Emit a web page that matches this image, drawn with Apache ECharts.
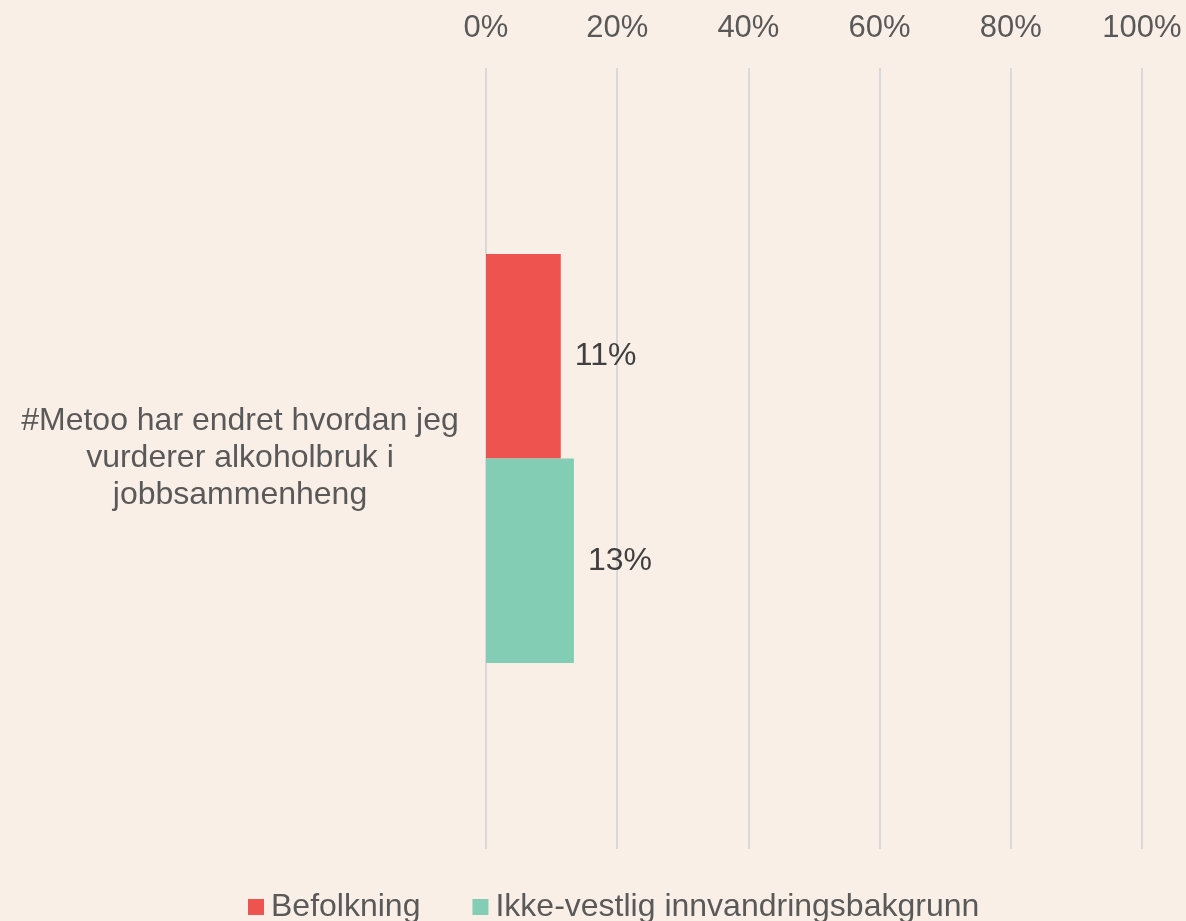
<!DOCTYPE html>
<html>
<head>
<meta charset="utf-8">
<script src="https://cdn.jsdelivr.net/npm/echarts@6/dist/echarts.min.js"></script>
<style>
html,body{margin:0;padding:0;background:#F9EFE7;}
#chart{width:1186px;height:921px;}
</style>
</head>
<body>
<div id="chart"></div>
<script>
const categories = ['#Metoo har endret hvordan jeg\nvurderer alkoholbruk i\njobbsammenheng'];
const seriesNames = ['Befolkning', 'Ikke-vestlig innvandringsbakgrunn'];
const befolkning = [11.4];
const ikkeVestlig = [13.4];
const xTicks = [0, 20, 40, 60, 80, 100];

const FONT = '"Liberation Sans", Arial, sans-serif';
const TXT = '#595959';
const chart = echarts.init(document.getElementById('chart'), null, {renderer: 'canvas'});
chart.setOption({
  backgroundColor: '#F9EFE7',
  animation: false,
  textStyle: {fontFamily: FONT},
  grid: {left: 486, right: 44, top: 68, bottom: 72, containLabel: false},
  legend: {
    data: seriesNames,
    left: 243,
    top: 886,
    itemWidth: 16,
    itemHeight: 16,
    itemGap: 52,
    icon: 'rect',
    textStyle: {fontSize: 32, color: TXT, fontFamily: FONT, padding: [0, 0, 0, 2]}
  },
  xAxis: {
    type: 'value',
    position: 'top',
    min: xTicks[0],
    max: xTicks[xTicks.length - 1],
    interval: 20,
    axisLine: {show: false},
    axisTick: {show: false},
    splitLine: {show: true, lineStyle: {color: '#D9D9D9', width: 2}},
    axisLabel: {formatter: '{value}%', fontSize: 31, color: TXT, margin: 24, fontFamily: FONT}
  },
  yAxis: {
    type: 'category',
    data: categories,
    inverse: true,
    axisLine: {show: false},
    axisTick: {show: false},
    axisLabel: {fontSize: 32, color: TXT, align: 'center', margin: 246, lineHeight: 37, fontFamily: FONT}
  },
  series: [
    {
      name: seriesNames[0], type: 'bar', data: befolkning,
      itemStyle: {color: '#EF5350'},
      barGap: '0%', barCategoryGap: '47.6%',
      label: {show: true, position: 'right', distance: 14, fontSize: 32, color: '#404040', fontFamily: FONT,
        formatter: p => Math.round(p.value) + '%'}
    },
    {
      name: seriesNames[1], type: 'bar', data: ikkeVestlig,
      itemStyle: {color: '#82CDB4'},
      barGap: '0%', barCategoryGap: '47.6%',
      label: {show: true, position: 'right', distance: 14, fontSize: 32, color: '#404040', fontFamily: FONT,
        formatter: p => Math.round(p.value) + '%'}
    }
  ]
});
</script>
</body>
</html>
